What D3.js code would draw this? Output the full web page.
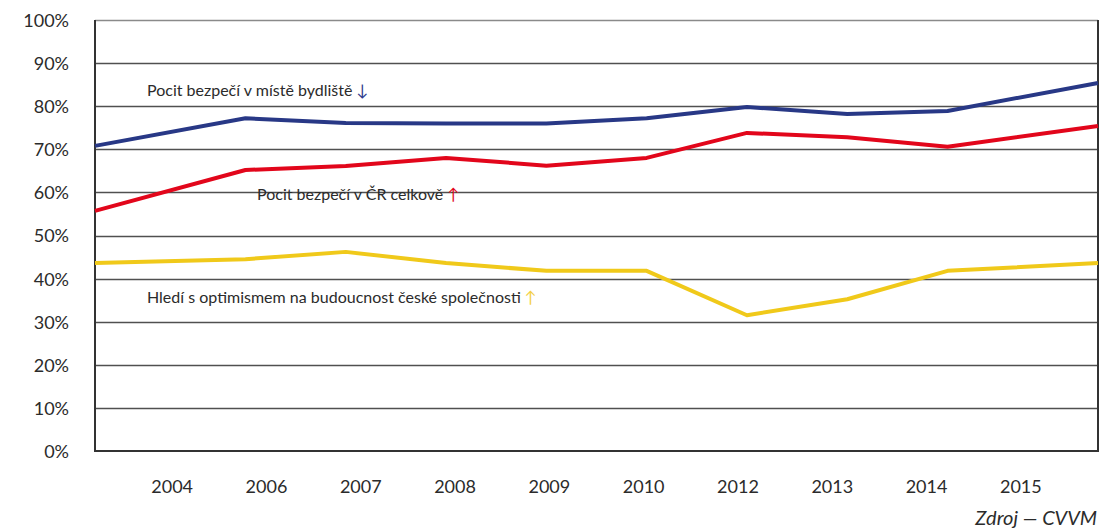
<!DOCTYPE html>
<html><head><meta charset="utf-8">
<script src="https://cdn.jsdelivr.net/npm/d3@7"></script>
<style>body{margin:0;background:#fff}svg{display:block}text{font-family:Lato,"Open Sans",sans-serif;fill:#2b2b2b}</style>
</head><body>
<script>
const years = ["2004","2006","2007","2008","2009","2010","2012","2013","2014","2015"];
const bydliste = [70.8, 77.2, 76.1, 76.0, 76.0, 77.2, 79.8, 78.2, 78.9, 85.4];
const celkove  = [55.7, 65.2, 66.1, 68.0, 66.2, 68.0, 73.8, 72.8, 70.6, 75.4];
const optimismus = [43.6, 44.5, 46.2, 43.6, 41.8, 41.8, 31.5, 35.2, 41.8, 43.6];
const yTicks = [0,10,20,30,40,50,60,70,80,90,100];
const seriesNames = ["Pocit bezpečí v místě bydliště","Pocit bezpečí v ČR celkově","Hledí s optimismem na budoucnost české společnosti"];
const arrows = ["↓","↑","↑"];

const W=1101,H=531;
const L=95,R=1098,T=20,B=451;
const svg=d3.select("body").append("svg").attr("width",W).attr("height",H);

const y=d3.scaleLinear().domain([0,100]).range([B,T]);
const xb=d3.scaleBand().domain(years).range([L,R]);
const xPt=(d,i)=> i===0 ? xb.range()[0] : (i===years.length-1 ? xb.range()[1] : xb(years[i])+xb.bandwidth()/2);
const xl=d3.scaleBand().domain(years).range([125,1068]);

// gridlines
svg.append("g").selectAll("line").data(yTicks.filter(t=>t>0)).join("line")
  .attr("x1",L).attr("x2",R).attr("y1",d=>Math.round(y(d))+0.5).attr("y2",d=>Math.round(y(d))+0.5)
  .attr("stroke",d=>d===100?"#8a8a8a":"#505050").attr("stroke-width",1.3);

// axes frame
svg.append("line").attr("x1",L).attr("x2",L).attr("y1",T).attr("y2",B+1).attr("stroke","#333").attr("stroke-width",2);
svg.append("line").attr("x1",L-1).attr("x2",R+1).attr("y1",B).attr("y2",B).attr("stroke","#333").attr("stroke-width",2);
svg.append("line").attr("x1",R).attr("x2",R).attr("y1",T).attr("y2",B+1).attr("stroke","#333").attr("stroke-width",2);

// y labels
const yAxis=d3.axisLeft(y).tickValues(yTicks).tickFormat(d=>d+"%").tickSize(0).tickPadding(0);
const ga=svg.append("g").attr("transform",`translate(69,0)`).call(yAxis);
ga.select(".domain").remove();
ga.selectAll("text").attr("font-size",18).attr("font-family","Lato").attr("fill","#2b2b2b").attr("dy","0.36em");

// x labels
const xAxis=d3.axisBottom(xl).tickSize(0).tickPadding(0);
const gx=svg.append("g").attr("transform",`translate(0,480)`).call(xAxis);
gx.select(".domain").remove();
gx.selectAll("text").attr("font-size",18).attr("font-family","Lato").attr("fill","#2b2b2b");

// lines
const colors=["#283886","#e2061b","#f0c91a"];
const arrowColors=["#2b3a8c","#e2061b","#f3cf45"];
const data=[bydliste,celkove,optimismus];
const line=d3.line().x((d,i)=>xPt(d,i)).y(d=>y(d));
data.forEach((s,k)=>{
  svg.append("path").attr("d",line(s)).attr("fill","none").attr("stroke",colors[k]).attr("stroke-width",4).attr("stroke-linejoin","round");
});

// labels
const labPos=[[147,96],[257,200],[147,303]];
seriesNames.forEach((n,k)=>{
  const t=svg.append("text").attr("x",labPos[k][0]).attr("y",labPos[k][1]).attr("font-size",16);
  t.append("tspan").text(n+" ");
  t.append("tspan").text(arrows[k]).style("fill",arrowColors[k]);
});

svg.append("text").attr("x",1097).attr("y",525).attr("text-anchor","end").attr("font-size",20).attr("font-style","italic").text("Zdroj — CVVM");
</script>
</body></html>
